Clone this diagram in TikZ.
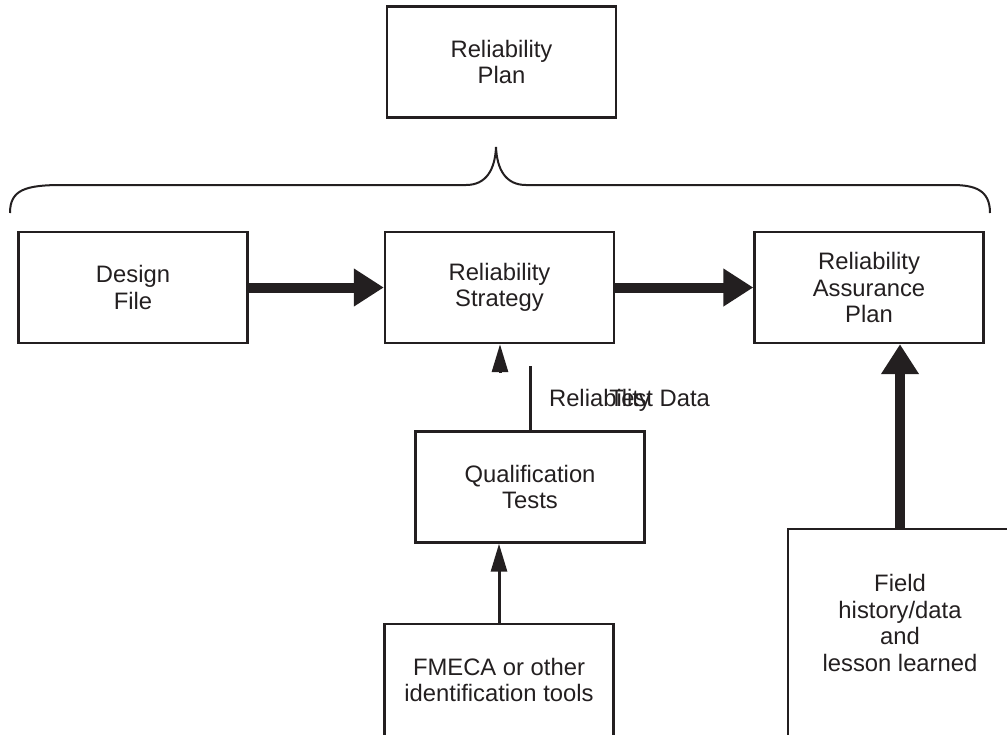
\documentclass[tikz,border=0pt]{standalone}
\usepackage{fontspec}
\setmainfont{Liberation Sans}
\usetikzlibrary{arrows.meta,calc}
\definecolor{ink}{RGB}{35,31,32}

\begin{document}
\begin{tikzpicture}[x=0.5pt,y=-0.5pt,
    box/.style={draw=ink, line width=1.2pt, minimum width=114.5pt, minimum height=55.5pt, inner sep=0pt},
    txt/.style={text=ink, align=center, font=\fontsize{11.9pt}{13.2pt}\selectfont},
    link/.style={draw=ink, line width=1.5pt, -{Triangle[length=14pt,width=8pt]}},
    bigarrow/.style={draw=ink, line width=5pt, -{Triangle[length=15pt,width=18pt]}}]
  \useasboundingbox (0,0) rectangle (1007,734);
  \clip (0,0) rectangle (1007,734);
  % top box and the brace under it
  \node[box,txt] (plan) at (501.5,62) {Reliability\\Plan};
  \draw[ink, line width=1pt] (10,213) .. controls (10,190) and (25,185) .. (62,185)
    -- (466,185) .. controls (486,185) and (495,170) .. (496,147)
    .. controls (497,170) and (506,185) .. (526,185)
    -- (952,185) .. controls (975,185) and (990,190) .. (990,213);
  % main row, thick arrows between
  \node[box,txt] (design) at (133,287.5) {Design\\File};
  \node[box,txt] (strategy) at (499.5,287.5) {Reliability\\Strategy};
  \node[box,txt] (assurance) at (869,287.5) {Reliability\\Assurance\\Plan};
  \draw[bigarrow] (design) -- (strategy);
  \draw[bigarrow] (strategy) -- (assurance);
  % test data feeding the strategy
  \node[box,txt] (qual) at (530,487) {Qualification\\Tests};
  \draw[ink, line width=1.5pt] (qual.north) -- ++(0,-64) coordinate (qgap);
  \coordinate (qhead) at (500,373);
  \draw[link] (qhead) -- (qhead |- strategy.south);
  \node[txt, anchor=base west] (rel) at (542,406) {Reliability};
  \node[txt, anchor=base east] (tdata) at (717,406) {Test Data};
  % FMECA box, cut by the lower edge
  \node[box, minimum height=80pt, anchor=north] (fmeca) at (499,623) {};
  \node[txt] (fmecatext) at (499,680) {FMECA or other\\identification tools};
  \draw[link] (fmeca.north) -- (fmeca.north |- qual.south);
  % field data box, cut by the right and lower edges
  \node[box, minimum width=130pt, minimum height=120pt, anchor=north west] (field) at (787,528) {};
  \node[txt] (fieldtext) at (900,623) {Field\\history/data\\and\\lesson learned};
  \draw[bigarrow] (field.north -| fieldtext) -- (fieldtext |- assurance.south);
\end{tikzpicture}
\end{document}
